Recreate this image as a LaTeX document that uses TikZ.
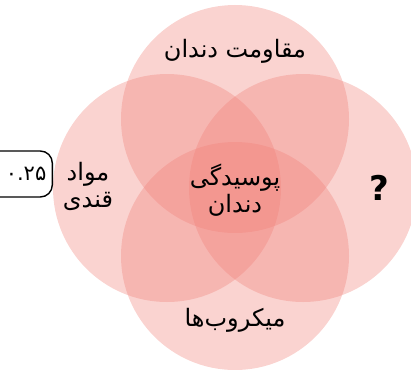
\documentclass[tikz,border=0pt]{standalone}
\usepackage{fontspec}
\usepackage{xcolor}
\usepackage{tikz}
\usetikzlibrary{positioning}
\TeXXeTstate=1
\newfontfamily\farsifont[Script=Arabic]{DejaVu Sans}
\newcommand{\fa}[1]{{\farsifont\beginR #1\endR}}
\definecolor{petalred}{RGB}{240,128,120}

\begin{document}
\begin{tikzpicture}[
    x=1pt, y=-1pt,
    font=\fontsize{24}{27}\selectfont\farsifont,
    petal/.style={
        circle,
        minimum size=228pt,
        inner sep=0pt,
        fill=petalred,
        fill opacity=0.35
    },
    label/.style={
        align=center,
        text=black
    },
    scorebox/.style={
        draw,
        rounded corners=12pt,
        line width=1.4pt,
        text width=55pt,
        align=right,
        inner xsep=6pt,
        minimum height=46pt,
        font=\fontsize{21}{24}\selectfont\farsifont
    }
]
\useasboundingbox (0,0) rectangle (411,369);

% four overlapping circles
\node[petal] (top) at (235,119) {};
\node[petal] (left) at (167,188) {};
\node[petal] (right) at (303,188) {};
\node[petal] (bottom) at (235,256) {};

% labels
\node[label] (resist) at (235,51) {\fa{مقاومت دندان}};
\node[label] (sugar) at (88,186) {\fa{مواد}\\\fa{قندی}};
\node[label] (caries) at (235,190) {\fa{پوسیدگی}\\\fa{دندان}};
\node[label] (microbe) at (235,320) {\fa{میکروب‌ها}};
\node[label, font=\fontsize{34}{36}\selectfont\farsifont\bfseries] (unknown) at (379,188) {?};

% score
\node[scorebox, anchor=east] (score) at (53,174) {۰.۲۵};

\end{tikzpicture}
\end{document}
